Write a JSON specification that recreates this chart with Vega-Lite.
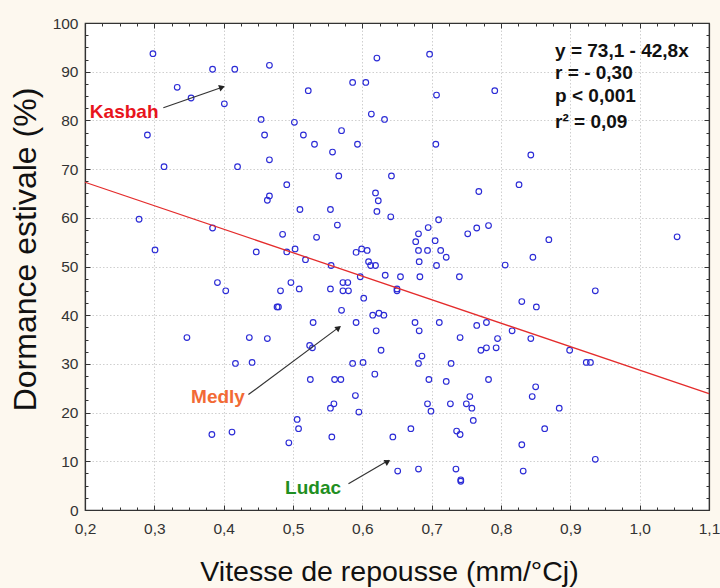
{
  "$schema": "https://vega.github.io/schema/vega-lite/v6.json",
  "width": 624,
  "height": 487,
  "autosize": "none",
  "padding": {"left": 85, "top": 23, "right": 11, "bottom": 78},
  "background": "#fdf8ef",
  "config": {
    "view": {"fill": "white", "stroke": "#333333", "strokeWidth": 1.2},
    "font": "Liberation Sans"
  },
  "datasets": {
    "pts": [
      {"v":0.298,"d":93.7},{"v":0.384,"d":90.5},{"v":0.416,"d":90.5},{"v":0.466,"d":91.3},{"v":0.333,"d":86.8},
      {"v":0.353,"d":84.6},{"v":0.401,"d":83.4},{"v":0.454,"d":80.2},{"v":0.502,"d":79.6},{"v":0.290,"d":77.0},
      {"v":0.459,"d":77.0},{"v":0.314,"d":70.5},{"v":0.420,"d":70.5},{"v":0.466,"d":71.9},{"v":0.491,"d":66.8},
      {"v":0.466,"d":64.5},{"v":0.463,"d":63.6},{"v":0.510,"d":61.7},{"v":0.278,"d":59.7},{"v":0.384,"d":57.9},
      {"v":0.485,"d":56.6},{"v":0.301,"d":53.4},{"v":0.447,"d":53.0},{"v":0.491,"d":53.0},{"v":0.503,"d":53.6},
      {"v":0.621,"d":92.8},{"v":0.697,"d":93.6},{"v":0.586,"d":87.8},{"v":0.605,"d":87.8},{"v":0.522,"d":86.1},
      {"v":0.707,"d":85.2},{"v":0.791,"d":86.1},{"v":0.613,"d":81.3},{"v":0.632,"d":80.2},{"v":0.515,"d":77.0},
      {"v":0.570,"d":77.9},{"v":0.531,"d":75.1},{"v":0.593,"d":75.1},{"v":0.706,"d":75.1},{"v":0.557,"d":73.5},
      {"v":0.566,"d":68.6},{"v":0.642,"d":68.6},{"v":0.619,"d":65.1},{"v":0.623,"d":63.5},{"v":0.768,"d":65.4},
      {"v":0.554,"d":61.7},{"v":0.621,"d":61.3},{"v":0.641,"d":60.2},{"v":0.710,"d":59.6},{"v":0.564,"d":58.5},
      {"v":0.695,"d":58.0},{"v":0.765,"d":57.9},{"v":0.782,"d":58.4},{"v":0.752,"d":56.7},{"v":0.534,"d":56.0},
      {"v":0.681,"d":56.7},{"v":0.677,"d":55.1},{"v":0.705,"d":55.3},{"v":0.518,"d":51.4},{"v":0.599,"d":53.6},
      {"v":0.607,"d":53.3},{"v":0.591,"d":52.9},{"v":0.681,"d":53.3},{"v":0.694,"d":53.3},{"v":0.713,"d":53.3},
      {"v":0.721,"d":51.9},{"v":0.609,"d":51.0},{"v":0.612,"d":50.2},{"v":0.619,"d":50.2},{"v":0.555,"d":50.2},
      {"v":0.682,"d":51.0},{"v":0.707,"d":50.2},{"v":0.843,"d":72.9},{"v":0.826,"d":66.8},{"v":0.869,"d":55.5},
      {"v":1.054,"d":56.1},{"v":0.846,"d":51.9},{"v":0.806,"d":50.3},{"v":0.391,"d":46.7},{"v":0.403,"d":45.0},
      {"v":0.497,"d":46.7},{"v":0.482,"d":45.0},{"v":0.509,"d":45.4},{"v":0.477,"d":41.7},{"v":0.479,"d":41.7},
      {"v":0.347,"d":35.4},{"v":0.437,"d":35.4},{"v":0.463,"d":35.2},{"v":0.417,"d":30.1},{"v":0.441,"d":30.3},
      {"v":0.506,"d":18.6},{"v":0.508,"d":16.7},{"v":0.383,"d":15.5},{"v":0.412,"d":16.0},{"v":0.494,"d":13.8},
      {"v":0.597,"d":47.9},{"v":0.633,"d":48.2},{"v":0.655,"d":47.9},{"v":0.683,"d":47.9},{"v":0.740,"d":47.9},
      {"v":0.554,"d":45.4},{"v":0.572,"d":46.7},{"v":0.579,"d":46.7},{"v":0.572,"d":45.0},{"v":0.580,"d":45.0},
      {"v":0.650,"d":45.4},{"v":0.650,"d":45.0},{"v":0.602,"d":43.5},{"v":0.570,"d":41.0},{"v":0.529,"d":38.5},
      {"v":0.591,"d":38.5},{"v":0.615,"d":40.0},{"v":0.624,"d":40.4},{"v":0.631,"d":40.0},{"v":0.676,"d":38.5},
      {"v":0.682,"d":36.8},{"v":0.711,"d":38.5},{"v":0.765,"d":37.9},{"v":0.779,"d":38.5},{"v":0.620,"d":36.8},
      {"v":0.741,"d":35.4},{"v":0.795,"d":35.2},{"v":0.524,"d":33.8},{"v":0.528,"d":33.3},{"v":0.627,"d":32.8},
      {"v":0.771,"d":32.8},{"v":0.779,"d":33.3},{"v":0.793,"d":33.3},{"v":0.686,"d":31.6},{"v":0.586,"d":30.1},
      {"v":0.601,"d":30.3},{"v":0.681,"d":30.1},{"v":0.728,"d":30.1},{"v":0.618,"d":27.9},{"v":0.525,"d":26.8},
      {"v":0.560,"d":26.8},{"v":0.569,"d":26.8},{"v":0.696,"d":26.8},{"v":0.721,"d":26.4},{"v":0.782,"d":26.8},
      {"v":0.590,"d":23.5},{"v":0.559,"d":21.8},{"v":0.554,"d":20.9},{"v":0.595,"d":20.1},{"v":0.694,"d":21.8},
      {"v":0.699,"d":20.3},{"v":0.727,"d":21.8},{"v":0.755,"d":23.3},{"v":0.750,"d":21.8},{"v":0.758,"d":20.9},
      {"v":0.760,"d":18.4},{"v":0.556,"d":15.0},{"v":0.644,"d":15.0},{"v":0.670,"d":16.7},{"v":0.736,"d":16.2},
      {"v":0.741,"d":15.5},{"v":0.651,"d":8.0},{"v":0.681,"d":8.4},{"v":0.735,"d":8.4},{"v":0.742,"d":6.2},
      {"v":0.742,"d":5.9},{"v":0.936,"d":45.0},{"v":0.830,"d":42.8},{"v":0.851,"d":41.7},{"v":0.816,"d":36.8},
      {"v":0.843,"d":35.2},{"v":0.899,"d":32.8},{"v":0.923,"d":30.3},{"v":0.929,"d":30.3},{"v":0.850,"d":25.3},
      {"v":0.845,"d":23.3},{"v":0.884,"d":20.9},{"v":0.863,"d":16.7},{"v":0.830,"d":13.4},{"v":0.936,"d":10.4},
      {"v":0.832,"d":8.0}
    ],
    "fit": [{"v":0.2,"d":67.3},{"v":1.1,"d":23.9}],
    "arrows": [
      {"name":"Kasbah","v":0.313,"d":82.6,"v2":0.400,"d2":86.9},
      {"name":"Medly","v":0.4357,"d":23.7,"v2":0.567,"d2":37.6},
      {"name":"Ludac","v":0.580,"d":5.4,"v2":0.638,"d2":10.2}
    ],
    "names": [
      {"name":"Kasbah","v":0.207,"d":80.4},
      {"name":"Medly","v":0.353,"d":22.0},
      {"name":"Ludac","v":0.4886,"d":3.2}
    ],
    "stats": [
      {"t":"y = 73,1 - 42,8x","v":0.878,"d":93.1},
      {"t":"r = - 0,30","v":0.878,"d":88.4},
      {"t":"p < 0,001","v":0.878,"d":83.7},
      {"t":"r² = 0,09","v":0.878,"d":78.4}
    ]
  },
  "resolve": {"axis": {"x": "independent", "y": "independent"}},
  "layer": [
    {
      "data": {"name": "pts"},
      "mark": {"type": "point", "filled": false, "color": "#2b2bd6", "size": 32, "strokeWidth": 1.15, "opacity": 1},
      "encoding": {
        "x": {"field": "v", "type": "quantitative", "scale": {"domain": [0.2, 1.1], "nice": false, "zero": false},
          "axis": {
            "orient": "bottom",
            "values": [0.2,0.225,0.25,0.275,0.3,0.325,0.35,0.375,0.4,0.425,0.45,0.475,0.5,0.525,0.55,0.575,0.6,0.625,0.65,0.675,0.7,0.725,0.75,0.775,0.8,0.825,0.85,0.875,0.9,0.925,0.95,0.975,1.0,1.025,1.05,1.075,1.1],
            "labelExpr": "abs(datum.value*10-round(datum.value*10))<0.01 ? replace(format(datum.value,'.1f'),'.',',') : ''",
            "labelOverlap": false, "labelFlush": false,
            "labelFont": "Liberation Sans", "labelFontSize": 15.5, "labelColor": "#333333", "labelPadding": 16,
            "tickSize": {"condition": {"test": "abs(datum.value*10-round(datum.value*10))<0.01", "value": -5}, "value": -3},
            "tickColor": "#333333", "tickWidth": 1,
            "grid": true, "gridColor": "#cfcfcf", "gridDash": [1.5, 2],
            "gridOpacity": {"condition": {"test": "abs(datum.value*10-round(datum.value*10))<0.01", "value": 1}, "value": 0},
            "domainColor": "#333333", "domainWidth": 1.2,
            "title": "Vitesse de repousse (mm/°Cj)",
            "titleFont": "Liberation Sans", "titleFontSize": 28.5, "titleFontWeight": "normal", "titleColor": "#111111",
            "titleX": 304, "titleY": 70, "titleAlign": "center", "titleBaseline": "alphabetic"
          }
        },
        "y": {"field": "d", "type": "quantitative", "scale": {"domain": [0, 100], "nice": false, "zero": false},
          "axis": {
            "orient": "left",
            "values": [0,2.5,5,7.5,10,12.5,15,17.5,20,22.5,25,27.5,30,32.5,35,37.5,40,42.5,45,47.5,50,52.5,55,57.5,60,62.5,65,67.5,70,72.5,75,77.5,80,82.5,85,87.5,90,92.5,95,97.5,100],
            "labelExpr": "datum.value % 10 == 0 ? format(datum.value,'d') : ''",
            "labelOverlap": false, "labelFlush": false,
            "labelFont": "Liberation Sans", "labelFontSize": 15.5, "labelColor": "#333333", "labelPadding": 12,
            "tickSize": {"condition": {"test": "datum.value % 10 == 0", "value": -5}, "value": -3},
            "tickColor": "#333333", "tickWidth": 1,
            "grid": true, "gridColor": "#cfcfcf", "gridDash": [1.5, 2],
            "gridOpacity": {"condition": {"test": "datum.value % 10 == 0 && datum.value > 0 && datum.value < 100", "value": 1}, "value": 0},
            "domainColor": "#333333", "domainWidth": 1.2,
            "title": "Dormance estivale (%)",
            "titleFont": "Liberation Sans", "titleFontSize": 32, "titleFontWeight": "normal", "titleColor": "#111111",
            "titleAngle": -90, "titleX": -50, "titleY": 226, "titleAlign": "center", "titleBaseline": "alphabetic"
          }
        }
      }
    },
    {
      "data": {"name": "fit"},
      "mark": {"type": "line", "color": "#e42c2c", "strokeWidth": 1.3},
      "encoding": {
        "x": {"field": "v", "type": "quantitative", "scale": {"domain": [0.2, 1.1], "nice": false, "zero": false},
          "axis": {
            "orient": "top", "labels": false, "title": null, "grid": false,
            "values": [0.2,0.225,0.25,0.275,0.3,0.325,0.35,0.375,0.4,0.425,0.45,0.475,0.5,0.525,0.55,0.575,0.6,0.625,0.65,0.675,0.7,0.725,0.75,0.775,0.8,0.825,0.85,0.875,0.9,0.925,0.95,0.975,1.0,1.025,1.05,1.075,1.1],
            "tickSize": {"condition": {"test": "abs(datum.value*10-round(datum.value*10))<0.01", "value": -5}, "value": -3},
            "tickColor": "#333333", "domainColor": "#333333", "domainWidth": 1.2
          }
        },
        "y": {"field": "d", "type": "quantitative", "scale": {"domain": [0, 100], "nice": false, "zero": false},
          "axis": {
            "orient": "right", "labels": false, "title": null, "grid": false,
            "values": [0,2.5,5,7.5,10,12.5,15,17.5,20,22.5,25,27.5,30,32.5,35,37.5,40,42.5,45,47.5,50,52.5,55,57.5,60,62.5,65,67.5,70,72.5,75,77.5,80,82.5,85,87.5,90,92.5,95,97.5,100],
            "tickSize": {"condition": {"test": "datum.value % 10 == 0", "value": -5}, "value": -3},
            "tickColor": "#333333", "domainColor": "#333333", "domainWidth": 1.2
          }
        }
      }
    },
    {
      "data": {"name": "arrows"},
      "mark": {"type": "rule", "color": "#333333", "strokeWidth": 1.2},
      "encoding": {
        "x": {"field": "v", "type": "quantitative", "scale": {"domain": [0.2, 1.1], "nice": false, "zero": false}, "axis": null},
        "y": {"field": "d", "type": "quantitative", "scale": {"domain": [0, 100], "nice": false, "zero": false}, "axis": null},
        "x2": {"field": "v2"},
        "y2": {"field": "d2"}
      }
    },
    {
      "data": {"values": [{"v": 0.3976, "d": 86.8}]},
      "mark": {"type": "point", "shape": "triangle-up", "filled": true, "color": "#222222", "size": 45, "angle": 71, "opacity": 1},
      "encoding": {
        "x": {"field": "v", "type": "quantitative", "scale": {"domain": [0.2, 1.1], "nice": false, "zero": false}, "axis": null},
        "y": {"field": "d", "type": "quantitative", "scale": {"domain": [0, 100], "nice": false, "zero": false}, "axis": null}
      }
    },
    {
      "data": {"values": [{"v": 0.5658, "d": 37.4}]},
      "mark": {"type": "point", "shape": "triangle-up", "filled": true, "color": "#222222", "size": 45, "angle": 53, "opacity": 1},
      "encoding": {
        "x": {"field": "v", "type": "quantitative", "scale": {"domain": [0.2, 1.1], "nice": false, "zero": false}, "axis": null},
        "y": {"field": "d", "type": "quantitative", "scale": {"domain": [0, 100], "nice": false, "zero": false}, "axis": null}
      }
    },
    {
      "data": {"values": [{"v": 0.6366, "d": 9.95}]},
      "mark": {"type": "point", "shape": "triangle-up", "filled": true, "color": "#222222", "size": 45, "angle": 61, "opacity": 1},
      "encoding": {
        "x": {"field": "v", "type": "quantitative", "scale": {"domain": [0.2, 1.1], "nice": false, "zero": false}, "axis": null},
        "y": {"field": "d", "type": "quantitative", "scale": {"domain": [0, 100], "nice": false, "zero": false}, "axis": null}
      }
    },
    {
      "data": {"name": "names"},
      "mark": {"type": "text", "align": "left", "baseline": "alphabetic", "font": "Liberation Sans", "fontSize": 19, "fontWeight": "bold"},
      "encoding": {
        "x": {"field": "v", "type": "quantitative", "scale": {"domain": [0.2, 1.1], "nice": false, "zero": false}, "axis": null},
        "y": {"field": "d", "type": "quantitative", "scale": {"domain": [0, 100], "nice": false, "zero": false}, "axis": null},
        "text": {"field": "name"},
        "color": {"field": "name", "type": "nominal", "scale": {"domain": ["Kasbah", "Medly", "Ludac"], "range": ["#e8141c", "#f26a35", "#1f8f22"]}, "legend": null}
      }
    },
    {
      "data": {"name": "stats"},
      "mark": {"type": "text", "align": "left", "baseline": "alphabetic", "font": "Liberation Sans", "fontSize": 19, "fontWeight": "bold", "color": "#111111"},
      "encoding": {
        "x": {"field": "v", "type": "quantitative", "scale": {"domain": [0.2, 1.1], "nice": false, "zero": false}, "axis": null},
        "y": {"field": "d", "type": "quantitative", "scale": {"domain": [0, 100], "nice": false, "zero": false}, "axis": null},
        "text": {"field": "t"}
      }
    }
  ]
}
